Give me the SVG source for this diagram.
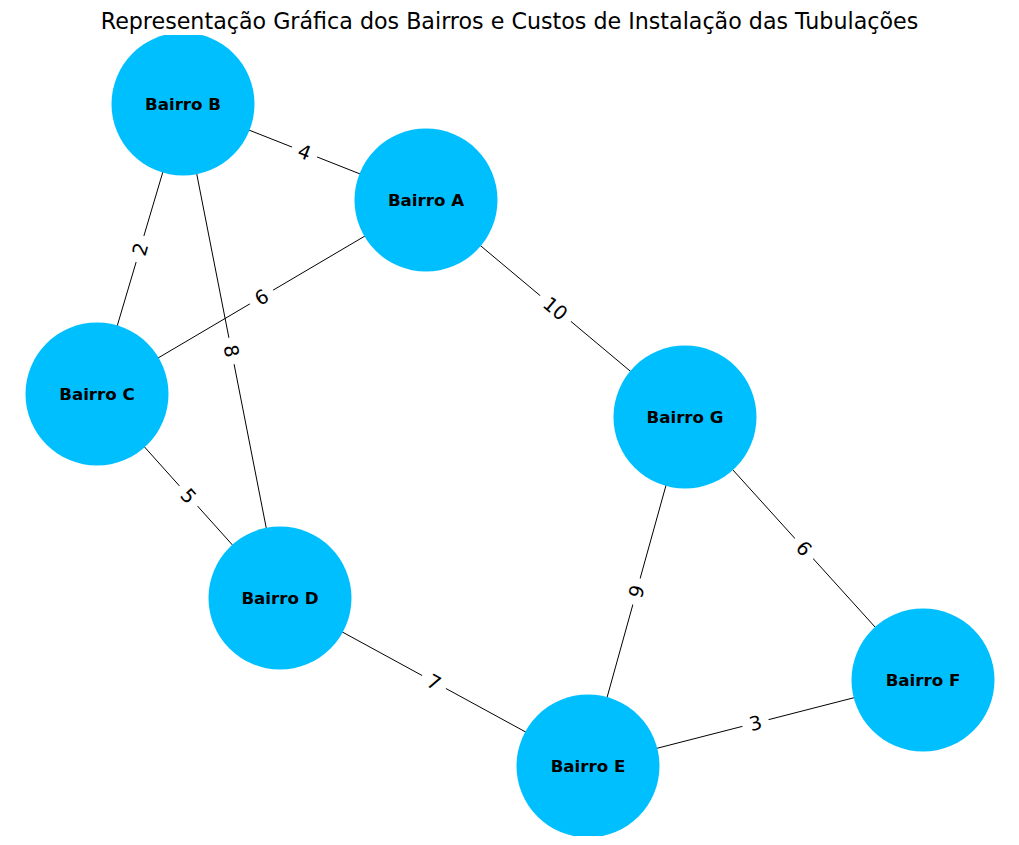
<svg xmlns="http://www.w3.org/2000/svg" width="1019" height="845" viewBox="0 0 1019 845">
<defs>
<style>
.edge{stroke:#000;stroke-width:1;fill:none}
.node{fill:#00BFFF}
.nl{font-family:"DejaVu Sans",sans-serif;font-weight:bold;font-size:16.67px;fill:#000;text-anchor:middle}
.el{font-family:"DejaVu Sans",sans-serif;font-size:19.4px;fill:#000;text-anchor:middle}
.lb{fill:#fff;stroke:#fff}
.title{font-family:"DejaVu Sans",sans-serif;font-size:22.2px;fill:#000;text-anchor:middle}
</style>
<clipPath id="ax"><rect x="0" y="35" width="1019" height="801"/></clipPath>
</defs>
<rect width="1019" height="845" fill="#fff"/>
<text class="title" x="509.5" y="29">Representação Gráfica dos Bairros e Custos de Instalação das Tubulações</text>
<g id="connectors" clip-path="url(#ax)">
<line class="edge" x1="183" y1="104" x2="426" y2="200"/>
<line class="edge" x1="183" y1="104" x2="97" y2="394"/>
<line class="edge" x1="183" y1="104" x2="280" y2="598"/>
<line class="edge" x1="426" y1="200" x2="97" y2="394"/>
<line class="edge" x1="426" y1="200" x2="685" y2="417"/>
<line class="edge" x1="97" y1="394" x2="280" y2="598"/>
<line class="edge" x1="685" y1="417" x2="588" y2="766"/>
<line class="edge" x1="685" y1="417" x2="923" y2="680"/>
<line class="edge" x1="280" y1="598" x2="588" y2="766"/>
<line class="edge" x1="588" y1="766" x2="923" y2="680"/>
</g>
<g id="nodes" clip-path="url(#ax)">
<g id="node-B"><circle class="node" cx="183" cy="104" r="71.5"/><text class="nl" x="183" y="110">Bairro B</text></g>
<g id="node-A"><circle class="node" cx="426" cy="200" r="71.5"/><text class="nl" x="426" y="206">Bairro A</text></g>
<g id="node-C"><circle class="node" cx="97" cy="394" r="71.5"/><text class="nl" x="97" y="400">Bairro C</text></g>
<g id="node-G"><circle class="node" cx="685" cy="417" r="71.5"/><text class="nl" x="685" y="423">Bairro G</text></g>
<g id="node-D"><circle class="node" cx="280" cy="598" r="71.5"/><text class="nl" x="280" y="604">Bairro D</text></g>
<g id="node-E"><circle class="node" cx="588" cy="766" r="71.5"/><text class="nl" x="588" y="772">Bairro E</text></g>
<g id="node-F"><circle class="node" cx="923" cy="680" r="71.5"/><text class="nl" x="923" y="686">Bairro F</text></g>
</g>
<g id="edge-labels">
<g transform="translate(304.5,152) rotate(21.56)"><rect class="lb" x="-13" y="-13" width="26" height="26" rx="5"/><text class="el" x="0" y="7">4</text></g>
<g transform="translate(140,249) rotate(-73.48)"><rect class="lb" x="-13" y="-13" width="26" height="26" rx="5"/><text class="el" x="0" y="7">2</text></g>
<g transform="translate(231.5,351) rotate(78.89)"><rect class="lb" x="-13" y="-13" width="26" height="26" rx="5"/><text class="el" x="0" y="7">8</text></g>
<g transform="translate(261.5,297) rotate(-30.53)"><rect class="lb" x="-13" y="-13" width="26" height="26" rx="5"/><text class="el" x="0" y="7">6</text></g>
<g transform="translate(555.5,308.5) rotate(39.96)"><rect class="lb" x="-19.5" y="-13" width="39" height="26" rx="5"/><text class="el" x="0" y="7">10</text></g>
<g transform="translate(188.5,496) rotate(48.11)"><rect class="lb" x="-13" y="-13" width="26" height="26" rx="5"/><text class="el" x="0" y="7">5</text></g>
<g transform="translate(636.5,591.5) rotate(-74.47)"><rect class="lb" x="-13" y="-13" width="26" height="26" rx="5"/><text class="el" x="0" y="7">9</text></g>
<g transform="translate(804,548.5) rotate(47.86)"><rect class="lb" x="-13" y="-13" width="26" height="26" rx="5"/><text class="el" x="0" y="7">6</text></g>
<g transform="translate(434,682) rotate(28.61)"><rect class="lb" x="-13" y="-13" width="26" height="26" rx="5"/><text class="el" x="0" y="7">7</text></g>
<g transform="translate(755.5,723) rotate(-14.40)"><rect class="lb" x="-13" y="-13" width="26" height="26" rx="5"/><text class="el" x="0" y="7">3</text></g>
</g>
</svg>
